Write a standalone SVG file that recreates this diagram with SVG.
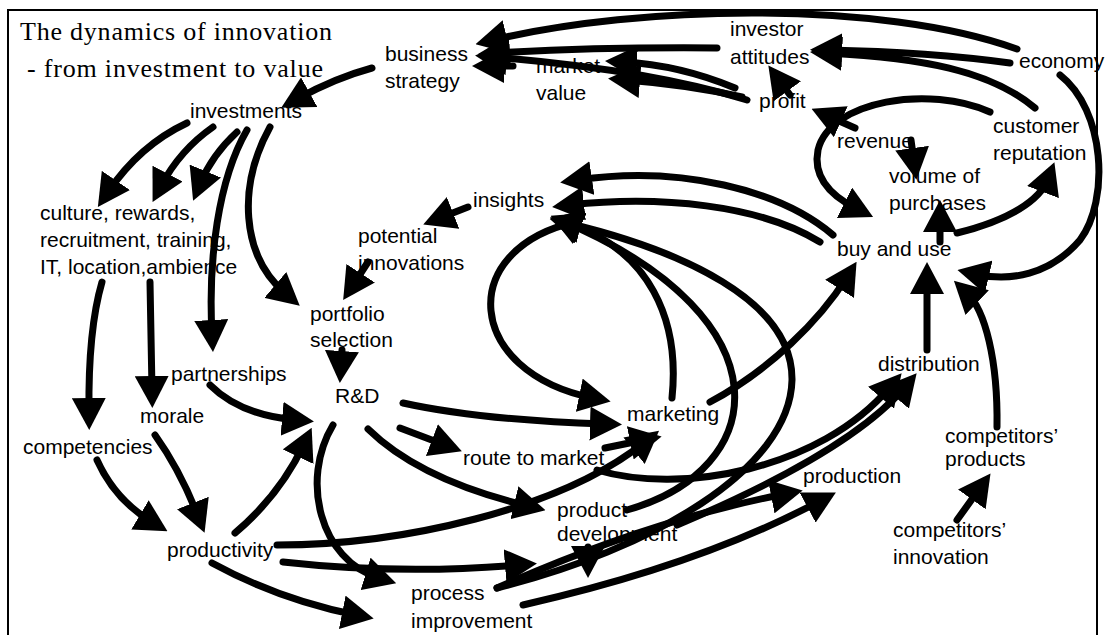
<svg xmlns="http://www.w3.org/2000/svg" width="1105" height="635" viewBox="0 0 1105 635">
<style>
.t{font-family:"Liberation Sans",Arial,sans-serif;font-size:21px;fill:#000}
.ti{font-family:"Liberation Serif","Times New Roman",serif;font-size:26px;fill:#000}
.c{fill:none;stroke:#000;stroke-width:7;stroke-linecap:round;marker-end:url(#ah)}
</style>
<defs>
<marker id="ah" markerUnits="userSpaceOnUse" viewBox="0 0 32 34" markerWidth="32" markerHeight="34" refX="14" refY="17" orient="auto">
<path d="M0,0 L32,17 L0,34 z" fill="#000"/>
</marker>
</defs>
<rect width="1105" height="635" fill="#fff"/>
<rect x="8" y="10" width="1089" height="640" fill="none" stroke="#000" stroke-width="2"/>
<g id="title">
<text class="ti" x="20" y="40" textLength="312">The dynamics of innovation</text>
<text class="ti" x="27" y="77" textLength="296">- from investment to value</text>
</g>
<g id="business-strategy"><text class="t" x="385" y="61">business</text><text class="t" x="385" y="88">strategy</text></g>
<g id="market-value"><text class="t" x="536" y="73">market</text><text class="t" x="536" y="100">value</text></g>
<g id="investor-attitudes"><text class="t" x="730" y="36">investor</text><text class="t" x="730" y="64">attitudes</text></g>
<g id="economy"><text class="t" x="1019" y="68">economy</text></g>
<g id="profit"><text class="t" x="759" y="108">profit</text></g>
<g id="customer-reputation"><text class="t" x="993" y="133">customer</text><text class="t" x="993" y="160">reputation</text></g>
<g id="revenue"><text class="t" x="837" y="148">revenue</text></g>
<g id="volume"><text class="t" x="889" y="183">volume of</text><text class="t" x="889" y="210">purchases</text></g>
<g id="insights"><text class="t" x="473" y="207">insights</text></g>
<g id="investments"><text class="t" x="190" y="118">investments</text></g>
<g id="culture"><text class="t" x="40" y="220">culture, rewards,</text><text class="t" x="40" y="247">recruitment, training,</text><text class="t" x="40" y="274">IT, location,ambience</text></g>
<g id="potential-innovations"><text class="t" x="358" y="243">potential</text><text class="t" x="358" y="270">innovations</text></g>
<g id="portfolio-selection"><text class="t" x="310" y="321">portfolio</text><text class="t" x="310" y="347">selection</text></g>
<g id="rd"><text class="t" x="335" y="403">R&amp;D</text></g>
<g id="partnerships"><text class="t" x="171" y="381">partnerships</text></g>
<g id="morale"><text class="t" x="140" y="423">morale</text></g>
<g id="competencies"><text class="t" x="23" y="454">competencies</text></g>
<g id="productivity"><text class="t" x="167" y="557">productivity</text></g>
<g id="marketing"><text class="t" x="627" y="421">marketing</text></g>
<g id="route-to-market"><text class="t" x="463" y="465">route to market</text></g>
<g id="product-development"><text class="t" x="557" y="517">product</text><text class="t" x="557" y="541">development</text></g>
<g id="process-improvement"><text class="t" x="411" y="600">process</text><text class="t" x="411" y="628">improvement</text></g>
<g id="production"><text class="t" x="803" y="483">production</text></g>
<g id="distribution"><text class="t" x="878" y="371">distribution</text></g>
<g id="buy-and-use"><text class="t" x="837" y="256">buy and use</text></g>
<g id="competitors-products"><text class="t" x="945" y="443">competitors’</text><text class="t" x="945" y="466">products</text></g>
<g id="competitors-innovation"><text class="t" x="893" y="537">competitors’</text><text class="t" x="893" y="564">innovation</text></g>
<g id="connectors">
<path class="c" d="M372,68 Q335,78 297,99"/>
<path class="c" d="M187,123 Q140,145 108,192"/>
<path class="c" d="M213,127 Q180,150 161,186"/>
<path class="c" d="M237,132 Q212,155 200,184"/>
<path class="c" d="M247,130 C218,180 208,260 212,334"/>
<path class="c" d="M270,127 C238,185 240,255 286,294"/>
<path class="c" d="M102,282 Q88,330 89,412"/>
<path class="c" d="M150,282 L152,390"/>
<path class="c" d="M97,460 Q115,500 152,522"/>
<path class="c" d="M155,435 Q180,470 198,516"/>
<path class="c" d="M235,533 Q280,495 304,444"/>
<path class="c" d="M210,385 Q240,415 296,420"/>
<path class="c" d="M368,262 L353,285"/>
<path class="c" d="M468,207 L440,218"/>
<path class="c" d="M342,350 L341,365"/>
<path class="c" d="M400,428 L445,445"/>
<path class="c" d="M368,429 Q420,480 528,506"/>
<path class="c" d="M403,403 Q480,420 604,424"/>
<path class="c" d="M277,545 C400,545 560,510 645,442"/>
<path class="c" d="M605,448 L644,440"/>
<path class="c" d="M575,222 C455,250 465,372 593,398"/>
<path class="c" d="M672,398 C680,320 650,250 567,223"/>
<path class="c" d="M627,510 C770,470 790,320 567,223"/>
<path class="c" d="M497,588 C650,550 790,470 792,380 C793,300 680,250 567,223"/>
<path class="c" d="M833,235 C780,190 680,165 578,180"/>
<path class="c" d="M820,242 C760,205 660,195 570,205"/>
<path class="c" d="M940,242 L940,218"/>
<path class="c" d="M911,140 L914,162"/>
<path class="c" d="M855,128 L828,116"/>
<path class="c" d="M790,95 L779,80"/>
<path class="c" d="M1010,63 Q930,52 828,50"/>
<path class="c" d="M1035,108 C990,70 920,58 828,53"/>
<path class="c" d="M1017,49 C880,0 640,5 493,40"/>
<path class="c" d="M717,48 Q600,47 496,53"/>
<path class="c" d="M747,100 Q650,70 493,57"/>
<path class="c" d="M513,66 L490,66"/>
<path class="c" d="M742,97 Q690,85 626,80"/>
<path class="c" d="M735,88 Q680,65 623,62"/>
<path class="c" d="M990,112 C930,85 830,100 818,150 C812,180 835,198 857,209"/>
<path class="c" d="M957,233 C1010,220 1040,200 1048,179"/>
<path class="c" d="M1060,75 C1105,110 1110,200 1080,240 C1050,275 1010,282 975,274"/>
<path class="c" d="M997,427 C998,360 985,310 967,293"/>
<path class="c" d="M927,350 L927,280"/>
<path class="c" d="M710,402 C770,370 820,320 847,277"/>
<path class="c" d="M597,470 C680,495 820,470 890,387"/>
<path class="c" d="M677,525 C760,490 860,440 905,387"/>
<path class="c" d="M497,588 Q650,520 785,494"/>
<path class="c" d="M523,605 Q700,565 820,501"/>
<path class="c" d="M283,562 Q400,575 519,565"/>
<path class="c" d="M212,563 Q280,600 356,615"/>
<path class="c" d="M333,425 C300,480 320,560 379,578"/>
<path class="c" d="M957,520 L980,488"/>
<path class="c" d="M588,547 L588,560"/>
</g>
</svg>
